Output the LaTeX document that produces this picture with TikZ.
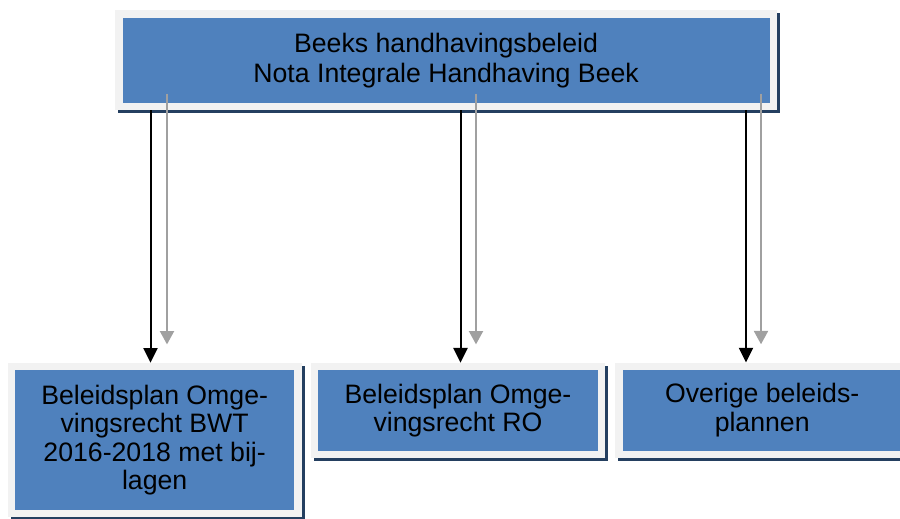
\documentclass[tikz,border=0pt]{standalone}
\usepackage{fontspec}
\setmainfont{Liberation Sans}
\usepackage{tikz}
\usetikzlibrary{arrows.meta,shadows}
\definecolor{boxblue}{HTML}{4F81BD}
\definecolor{framegrey}{HTML}{F2F2F2}
\definecolor{shadeblue}{HTML}{243F60}
\definecolor{arrowgrey}{HTML}{A0A0A0}
\tikzset{
	planbox/.style={fill=boxblue, draw=framegrey, line width=5.5pt,
		minimum width=215pt, inner sep=0pt, align=center,
		font=\fontsize{20}{21.25}\selectfont,
		drop shadow={shadow xshift=2.25pt, shadow yshift=-2.25pt,
			fill=shadeblue, draw=shadeblue, opacity=1}},
	blackarr/.style={draw=black, line width=1.5pt,
		arrows={-Triangle[width=10.5pt,length=11pt]}},
	greyarr/.style={draw=arrowgrey, line width=1.5pt,
		arrows={-Triangle[width=10.5pt,length=10pt]}}
}
\begin{document}
\begin{tikzpicture}[x=0.75pt,y=-0.75pt]
		\useasboundingbox (0,0) rectangle (900,518);
		\clip (0,0) rectangle (900,518);
		\node[planbox, minimum width=490.75pt, minimum height=69.25pt,
		font=\fontsize{20}{22.5}\selectfont]
		(nota) at (446.1,60.2) {Beeks handhavingsbeleid\\Nota Integrale Handhaving Beek};
		\node[planbox, minimum height=110.5pt]
		(bwt) at (154.65,440) {Beleidsplan Omge-\\vingsrecht BWT\\2016-2018 met bij-\\lagen};
		\node[planbox, minimum height=66pt]
		(ro) at (458,410.3) {Beleidsplan Omge-\\vingsrecht RO};
		\node[planbox, minimum height=66pt]
		(overig) at (762.2,410.2) {Overige beleids-\\plannen};
		\coordinate (k1) at (150.5,0);
		\coordinate (k2) at (460.5,0);
		\coordinate (k3) at (746,0);
		\coordinate (g1) at (167,0);
		\coordinate (g2) at (476,0);
		\coordinate (g3) at (761,0);
		\draw[blackarr]
		(nota.south -| k1) -- (bwt.north -| k1);
		\draw[greyarr]
		([yshift=12.3pt]nota.south -| g1) -- ([yshift=13.7pt]bwt.north -| g1);
		\draw[blackarr]
		(nota.south -| k2) -- (ro.north -| k2);
		\draw[greyarr]
		([yshift=12.3pt]nota.south -| g2) -- ([yshift=13.7pt]ro.north -| g2);
		\draw[blackarr]
		(nota.south -| k3) -- (overig.north -| k3);
		\draw[greyarr]
		([yshift=12.3pt]nota.south -| g3) -- ([yshift=13.7pt]overig.north -| g3);
\end{tikzpicture}
\end{document}
